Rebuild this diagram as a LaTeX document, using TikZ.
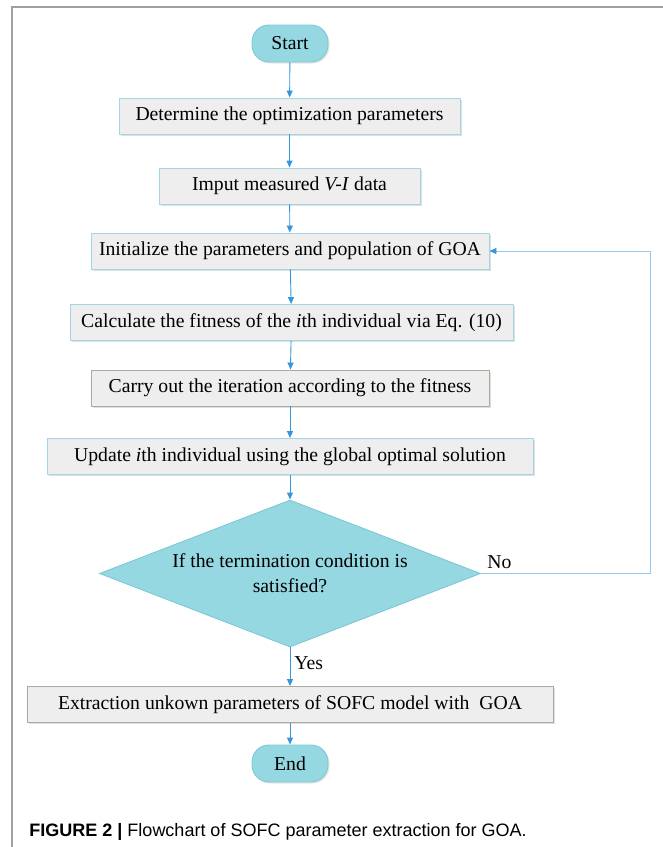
\documentclass[tikz,border=0pt]{standalone}
\usepackage{fontspec}
\setmainfont{Liberation Serif}
\setsansfont{Liberation Sans}
\usetikzlibrary{arrows.meta,shapes.geometric,shadows}
\definecolor{cyanfill}{RGB}{150,216,226}
\definecolor{cyanline}{RGB}{125,200,214}
\definecolor{boxfill}{RGB}{238,238,238}
\definecolor{boxline}{RGB}{160,214,230}
\definecolor{grayline}{RGB}{172,172,158}
\definecolor{wireblue}{RGB}{52,150,220}
\definecolor{loopblue}{RGB}{150,200,240}
\definecolor{framegray}{RGB}{160,160,160}
\begin{document}
\begin{tikzpicture}
	[x=1pt,y=-1pt,line width=0.9pt,
	>={Triangle[length=7pt,width=6pt,color=wireblue]},
	every node/.style = {
		font=\fontsize{19.7}{25}\selectfont
	},
	box/.style = {
		draw=boxline, fill=boxfill,
		minimum height = 36pt,
		inner sep = 0pt,
		drop shadow = {shadow xshift=1.5pt, shadow yshift=-1.5pt, opacity=0.25}
	},
	graybox/.style = {
		box, draw=grayline
	},
	pill/.style = {
		draw=cyanline, fill=cyanfill,
		rounded corners = 17pt,
		minimum width = 76pt,
		minimum height = 37pt,
		inner sep = 0pt,
		drop shadow = {shadow xshift=1.5pt, shadow yshift=-1.5pt, opacity=0.2}
	},
	cond/.style = {
		diamond, draw=cyanline, fill=cyanfill,
		aspect = 2.6, inner sep = 0pt,
		minimum width = 381pt,
		minimum height = 147pt,
		align = center
	},
	wire/.style = {
		draw=wireblue, ->
	},
	back/.style = {
		draw=loopblue, ->
	}]
	
	\useasboundingbox (0,0) rectangle (663,847);
	\draw[framegray, line width=1.5pt] (12,847) -- (12,7) -- (663,7);
	
	%Draw nodes
	\node[pill] at (290,43.5) (start) {Start};
	\node[box, minimum width=341pt] at (289.5,116) (det) {Determine the optimization parameters};
	\node[box, minimum width=261pt] at (289.5,186) (imp) {Imput measured \textit{V-I} data};
	\node[box, minimum width=398pt] at (290,251) (init) {Initialize the parameters and population of GOA};
	\node[box, minimum width=443pt] at (291.5,322.5) (fit) {Calculate the fitness of the \textit{i}th individual via Eq. (10)};
	\node[graybox, minimum width=398pt] at (290,388) (iter) {Carry out the iteration according to the fitness};
	\node[box, minimum width=486pt] at (290,456.5) (upd) {Update \textit{i}th individual using the global optimal solution};
	\node[cond] at (290,573.5) (term) {If the termination condition is\\satisfied?};
	\node[graybox, minimum width=526pt] at (290,704.5) (ext) {Extraction unkown parameters of SOFC model with\ \ GOA};
	\node[pill] at (290,763.5) (end) {End};
	
	\node[anchor=west, inner sep=0pt] at (487,562) (no) {No};
	\node[anchor=west, inner sep=0pt] at (294,663) (yes) {Yes};
	
	\coordinate(loop) at (650,251);
	
	\node[anchor=west, inner sep=0pt, font=\sffamily\fontsize{18}{20}\selectfont] at (29,832) (cap)
		{\textbf{FIGURE 2 |} Flowchart of SOFC parameter extraction for GOA.};
	
	%Draw wires
	\draw[wire] (start) -- (det);
	\draw[wire] (det) -- (imp);
	\draw[wire] (imp) -- (init);
	\draw[wire] (init) -- (fit);
	\draw[wire] (fit) -- (iter);
	\draw[wire] (iter) -- (upd);
	\draw[wire] (upd) -- (term);
	\draw[wire] (term) -- (ext);
	\draw[wire] (ext) -- (end);
	
	\draw[back] (term.east) -| (loop) -- (init.east);
	
\end{tikzpicture}
\end{document}
